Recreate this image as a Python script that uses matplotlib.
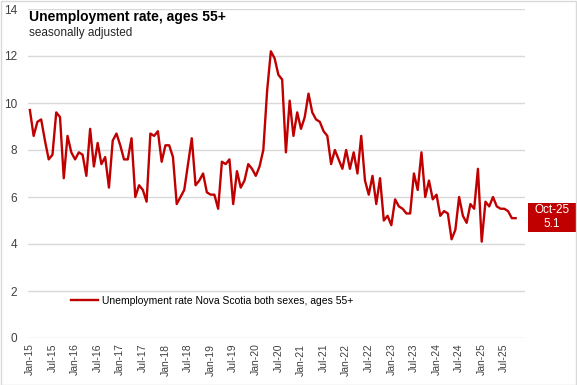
#!/usr/bin/env python3
"""Unemployment rate, ages 55+ (Nova Scotia, seasonally adjusted) -> out.png"""
import numpy as np
import pandas as pd
import matplotlib
matplotlib.use("Agg")
import matplotlib.pyplot as plt
from matplotlib.patches import Rectangle

# monthly, Jan-15 .. Oct-25
RATE = [
    9.7, 8.6, 9.2, 9.3, 8.4, 7.6, 7.8, 9.6, 9.4, 6.8, 8.6, 7.9,   # 2015
    7.6, 7.9, 7.8, 6.9, 8.9, 7.3, 8.3, 7.4, 7.7, 6.4, 8.4, 8.7,   # 2016
    8.2, 7.6, 7.6, 8.5, 6.0, 6.5, 6.3, 5.8, 8.7, 8.6, 8.8, 7.5,   # 2017
    8.2, 8.2, 7.7, 5.7, 6.0, 6.3, 7.4, 8.5, 6.5, 6.7, 7.0, 6.2,   # 2018
    6.1, 6.1, 5.5, 7.5, 7.4, 7.6, 5.7, 7.1, 6.4, 6.7, 7.4, 7.2,   # 2019
    6.9, 7.3, 8.0, 10.5, 12.2, 11.9, 11.2, 11.0, 7.9, 10.1, 8.6, 9.6,  # 2020
    8.9, 9.4, 10.4, 9.6, 9.3, 9.2, 8.8, 8.6, 7.4, 8.0, 7.6, 7.2,  # 2021
    8.0, 7.2, 7.9, 7.0, 8.6, 6.7, 6.1, 6.9, 5.7, 6.8, 5.0, 5.2,   # 2022
    4.8, 5.9, 5.6, 5.5, 5.3, 5.3, 7.0, 6.3, 7.9, 6.0, 6.7, 5.9,   # 2023
    6.1, 5.2, 5.4, 5.3, 4.2, 4.6, 6.0, 5.2, 4.9, 5.7, 5.5, 7.2,   # 2024
    4.1, 5.8, 5.6, 6.0, 5.6, 5.5, 5.5, 5.4, 5.1, 5.1,             # 2025
]
MONTHS = pd.date_range("2015-01-01", periods=len(RATE), freq="MS")
TICK_LABELS = [d.strftime("%b-%y") for d in pd.date_range("2015-01-01", "2025-07-01", freq="6MS")]
LAST_LABEL = MONTHS[-1].strftime("%b-%y")
LAST_VALUE = RATE[-1]

RED = "#c00000"
GRID = "#d9d9d9"
W, H = 577, 385

plt.rcParams["font.family"] = ["Liberation Sans", "DejaVu Sans"]

fig = plt.figure(figsize=(W / 100, H / 100), dpi=100)
ax = fig.add_axes([28 / W, 1 - 338 / H, (525 - 28) / W, (338 - 9) / H])

x = np.arange(len(RATE))
ax.plot(x, RATE, color=RED, lw=1.7, solid_joinstyle="round",
        label="Unemployment rate Nova Scotia both sexes, ages 55+")

ax.set_xlim(-0.5, 131.5)
ax.set_ylim(0, 14)
ax.set_yticks(np.arange(0, 15, 2))
ax.set_xticks(np.arange(0, len(TICK_LABELS) * 6, 6))
ax.set_xticklabels(TICK_LABELS, rotation=90, fontsize=7.5, color="#404040")
ax.tick_params(axis="y", labelsize=8.5, colors="#404040", length=0, pad=8)
ax.tick_params(axis="x", length=0, pad=4)
ax.grid(axis="y", color=GRID, lw=1)
ax.set_axisbelow(True)
for s in ax.spines.values():
    s.set_visible(False)

ax.legend(loc="lower left", bbox_to_anchor=(0.078, 0.085), frameon=False,
          fontsize=7.5, handlelength=2.6, handletextpad=0.4, borderaxespad=0)

fig.text(29 / W, 1 - 17 / H, "Unemployment rate, ages 55+", fontsize=10, weight="bold",
         va="center", ha="left", color="black")
fig.text(29 / W, 1 - 33 / H, "seasonally adjusted", fontsize=8.5, va="center", ha="left",
         color="#262626")

# last-value callout box on the right edge
fig.patches.append(Rectangle((528 / W, 1 - 232 / H), 49 / W, 29 / H, transform=fig.transFigure,
                             facecolor=RED, edgecolor="none"))
fig.text(552 / W, 1 - 210 / H, LAST_LABEL, color="white", fontsize=8.5, ha="center", va="center")
fig.text(552 / W, 1 - 224 / H, f"{LAST_VALUE:.1f}", color="white", fontsize=8.5, ha="center", va="center")

# thin chart border
fig.patches.append(Rectangle((0.5 / W, 0.5 / H), 1 - 1.5 / W, 1 - 1.5 / H, transform=fig.transFigure,
                             facecolor="none", edgecolor=GRID, lw=1))

fig.savefig("out.png", dpi=100)
